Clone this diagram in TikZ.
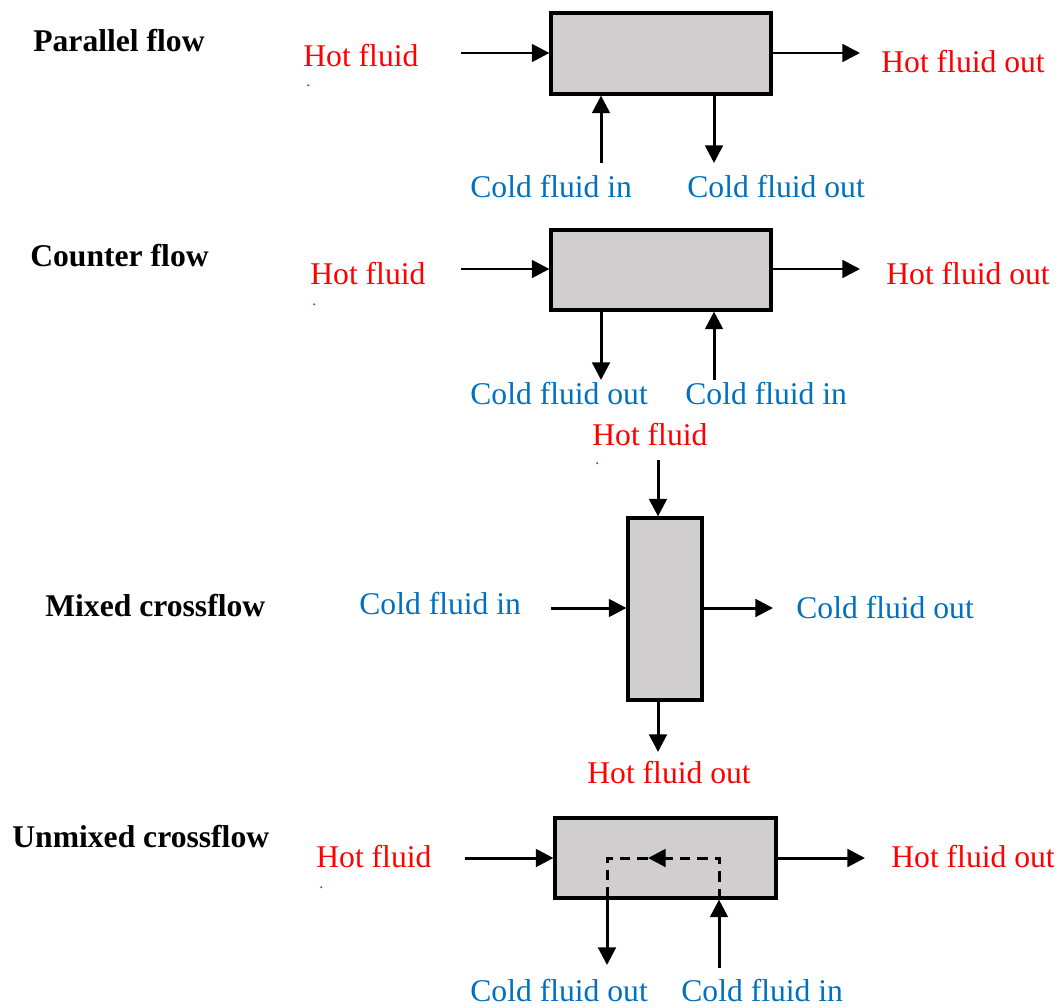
\documentclass[tikz,border=0pt]{standalone}
\usepackage{fontspec}
\setmainfont{Liberation Serif}
\usepackage{tikz}
\usetikzlibrary{arrows.meta}

\definecolor{hotred}{RGB}{255,0,0}
\definecolor{coldblue}{RGB}{0,112,192}
\definecolor{boxgray}{RGB}{208,206,206}
\newcommand{\lblfont}{\fontsize{18}{22}\selectfont}

\tikzset{
	hx/.style = {draw, line width=1.8pt, fill=boxgray, inner sep=0pt},
	title/.style = {font=\lblfont\bfseries, anchor=base west, inner sep=0pt},
	hot/.style = {text=hotred, font=\lblfont, anchor=base west, inner sep=0pt},
	cold/.style = {text=coldblue, font=\lblfont, anchor=base west, inner sep=0pt},
	speck/.style = {text=hotred, font=\fontsize{9}{9}\selectfont, anchor=base west, inner sep=0pt},
	flow/.style = {-{Triangle[length=10pt, width=10pt]}, line width=1.7pt},
	inner/.style = {line width=1.7pt, dash pattern=on 6pt off 4pt}
}

\begin{document}
\begin{tikzpicture}[x=0.02cm, y=-0.02cm]
	\useasboundingbox (0,0) rectangle (1064,1007);

	% parallel flow
	\node [title] (ptitle) at (33,52) {Parallel flow};
	\node [hx, minimum width=4.4cm, minimum height=1.62cm] (pbox) at (661,53.5) {};
	\node [hot] (phot) at (303,67) {Hot fluid};
	\node [speck] (pspeck) at (306,87) {.};
	\node [hot] (photout) at (881,72) {Hot fluid out};
	\node [cold] (pcoldin) at (470,197) {Cold fluid in};
	\node [cold] (pcoldout) at (687,197) {Cold fluid out};
	\coordinate (phin) at (461,53);
	\coordinate (phout) at (860,53);
	\coordinate (pcin) at (601,163);
	\coordinate (pcout) at (714,163);
	\draw [flow] (phin) -- (pbox.west |- phin);
	\draw [flow] (pbox.east |- phout) -- (phout);
	\draw [flow] (pcin) -- (pcin |- pbox.south);
	\draw [flow] (pcout |- pbox.south) -- (pcout);

	% counter flow
	\node [title] (ctitle) at (30,266) {Counter flow};
	\node [hx, minimum width=4.4cm, minimum height=1.6cm] (cbox) at (661,270) {};
	\node [hot] (chot) at (310,284) {Hot fluid};
	\node [speck] (cspeck) at (312,305) {.};
	\node [hot] (chotout) at (886,284) {Hot fluid out};
	\node [cold] (ccoldout) at (470,404) {Cold fluid out};
	\node [cold] (ccoldin) at (685,404) {Cold fluid in};
	\coordinate (chin) at (461,269);
	\coordinate (chout) at (860,269);
	\coordinate (ccout) at (601,380);
	\coordinate (ccin) at (714,380);
	\draw [flow] (chin) -- (cbox.west |- chin);
	\draw [flow] (cbox.east |- chout) -- (chout);
	\draw [flow] (ccout |- cbox.south) -- (ccout);
	\draw [flow] (ccin) -- (ccin |- cbox.south);

	% mixed crossflow
	\node [title] (mtitle) at (45,616) {Mixed crossflow};
	\node [hx, minimum width=1.48cm, minimum height=3.64cm] (mbox) at (665,609) {};
	\node [hot] (mhot) at (592,445) {Hot fluid};
	\node [speck] (mspeck) at (595,464) {.};
	\node [hot] (mhotout) at (587,783) {Hot fluid out};
	\node [cold] (mcoldin) at (359,614) {Cold fluid in};
	\node [cold] (mcoldout) at (796,618) {Cold fluid out};
	\coordinate (mhin) at (658,460);
	\coordinate (mhout) at (658,752);
	\coordinate (mcin) at (551,608);
	\coordinate (mcout) at (773,608);
	\draw [flow] (mhin) -- (mhin |- mbox.north);
	\draw [flow] (mhout |- mbox.south) -- (mhout);
	\draw [flow] (mcin) -- (mbox.west |- mcin);
	\draw [flow] (mbox.east |- mcout) -- (mcout);

	% unmixed crossflow
	\node [title] (utitle) at (12,847) {Unmixed crossflow};
	\node [hx, minimum width=4.42cm, minimum height=1.6cm] (ubox) at (665.5,858) {};
	\node [hot] (uhot) at (316,867) {Hot fluid};
	\node [speck] (uspeck) at (319,888) {.};
	\node [hot] (uhotout) at (891,867) {Hot fluid out};
	\node [cold] (ucoldout) at (470,1001) {Cold fluid out};
	\node [cold] (ucoldin) at (681,1001) {Cold fluid in};
	\coordinate (uhin) at (465,858);
	\coordinate (uhout) at (865,858);
	\coordinate (ucin) at (719,968);
	\coordinate (ucout) at (607,965);
	\coordinate (umid) at (648,858);
	\draw [flow] (uhin) -- (ubox.west |- uhin);
	\draw [flow] (ubox.east |- uhout) -- (uhout);
	\draw [flow] (ucin) -- (ucin |- ubox.south);
	\draw [flow] (ucout |- ubox.south) -- (ucout);
	\draw [inner, -{Triangle[length=10pt, width=10pt]}] (ucin |- ubox.south) -- (ucin |- umid) -- (umid);
	\draw [inner] (umid) -- (ucout |- umid) -- (ucout |- ubox.south);
\end{tikzpicture}
\end{document}
